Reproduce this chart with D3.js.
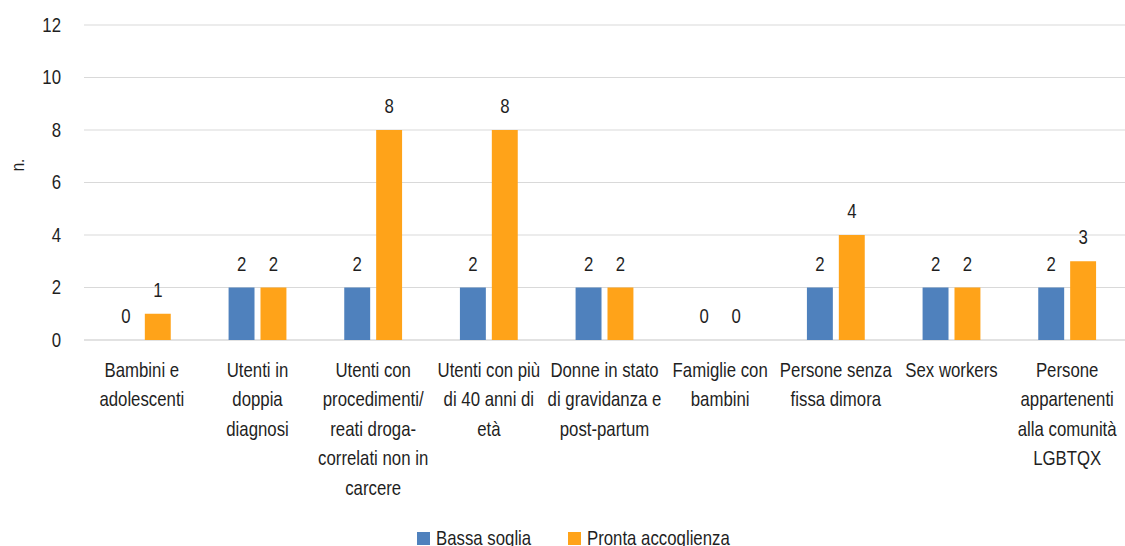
<!DOCTYPE html>
<html>
<head>
<meta charset="utf-8">
<script src="https://cdn.jsdelivr.net/npm/d3@7"></script>
<style>
  html, body { margin: 0; padding: 0; background: #fff; overflow: hidden; }
  svg { display: block; }
  text { font-family: "Liberation Sans", Arial, sans-serif; fill: #1f1f1f; }
</style>
</head>
<body>
<svg id="chart" width="1125" height="546"></svg>
<script>
// Target groups (line breaks mark where each label wraps)
const categories = [
  "Bambini e\nadolescenti",
  "Utenti in\ndoppia\ndiagnosi",
  "Utenti con\nprocedimenti/\nreati droga-\ncorrelati non in\ncarcere",
  "Utenti con più\ndi 40 anni di\netà",
  "Donne in stato\ndi gravidanza e\npost-partum",
  "Famiglie con\nbambini",
  "Persone senza\nfissa dimora",
  "Sex workers",
  "Persone\nappartenenti\nalla comunità\nLGBTQX"
];
const seriesNames = ["Bassa soglia", "Pronta accoglienza"];
const bassaSoglia = [0, 2, 2, 2, 2, 0, 2, 2, 2];
const prontaAccoglienza = [1, 2, 8, 8, 2, 0, 4, 2, 3];
const yTicks = [0, 2, 4, 6, 8, 10, 12];
const yTitle = "n.";

const colors = ["#4F81BD", "#FFA319"];
const series = [bassaSoglia, prontaAccoglienza];

// Narrow lettering: regular sans squeezed horizontally
const NARROW = "scale(0.84,1)";
const FS = "20px";

const svg = d3.select("#chart");
const plotLeft = 84, plotRight = 1125, plotTop = 25, plotBottom = 340;

const x0 = d3.scaleBand().domain(d3.range(categories.length)).range([plotLeft, plotRight]).paddingInner(0.5).paddingOuter(0.25);
const x1 = d3.scaleBand().domain([0, 1]).range([0, x0.bandwidth()]).paddingInner(0.1875);
const y = d3.scaleLinear().domain([0, 12]).range([plotBottom, plotTop]);

// Gridlines
svg.append("g").selectAll("line").data(yTicks).join("line")
  .attr("x1", plotLeft).attr("x2", plotRight)
  .attr("y1", d => y(d)).attr("y2", d => y(d))
  .attr("stroke", "#d9d9d9")
  .attr("stroke-width", d => d === 0 ? 1.6 : 1);

// Y axis labels
const yAxis = d3.axisLeft(y).tickValues(yTicks).tickSize(0).tickPadding(0);
const yg = svg.append("g").attr("transform", `translate(${plotLeft - 23},0)`).call(yAxis);
yg.select(".domain").remove();
yg.selectAll("text")
  .attr("fill", "#1f1f1f")
  .attr("transform", NARROW)
  .style("font-size", FS)
  .style("font-family", "'Liberation Sans', Arial, sans-serif");

// Y axis title
svg.append("text")
  .attr("transform", `translate(24,165) rotate(-90) ${NARROW}`)
  .attr("text-anchor", "middle")
  .style("font-size", "18px")
  .text(yTitle);

// Bars and value labels
const groups = svg.append("g").selectAll("g").data(categories).join("g")
  .attr("transform", (d, i) => `translate(${x0(i)},0)`);

series.forEach((vals, s) => {
  groups.append("rect")
    .attr("x", x1(s))
    .attr("width", x1.bandwidth())
    .attr("y", (d, i) => y(vals[i]))
    .attr("height", (d, i) => y(0) - y(vals[i]))
    .attr("fill", colors[s]);
  groups.append("text")
    .attr("transform", (d, i) => `translate(${x1(s) + x1.bandwidth() / 2},${y(vals[i]) - 17}) ${NARROW}`)
    .attr("text-anchor", "middle")
    .style("font-size", FS)
    .text((d, i) => vals[i]);
});

// Category labels
const xl = svg.append("g").selectAll("text").data(categories).join("text")
  .attr("transform", (d, i) => `translate(${x0(i) + x0.bandwidth() / 2},377) ${NARROW}`)
  .attr("text-anchor", "middle")
  .style("font-size", FS);
xl.each(function(d) {
  const t = d3.select(this);
  d.split("\n").forEach((line, k) => {
    t.append("tspan").attr("x", 0).attr("dy", k === 0 ? 0 : 29.5).text(line);
  });
});

// Legend
const legendX = [417, 568];
const lg = svg.append("g").selectAll("g").data(seriesNames).join("g")
  .attr("transform", (d, i) => `translate(${legendX[i]},532)`);
lg.append("rect").attr("width", 13).attr("height", 13).attr("fill", (d, i) => colors[i]);
lg.append("text").attr("transform", `translate(19,13) ${NARROW}`).style("font-size", FS).text(d => d);
</script>
</body>
</html>
